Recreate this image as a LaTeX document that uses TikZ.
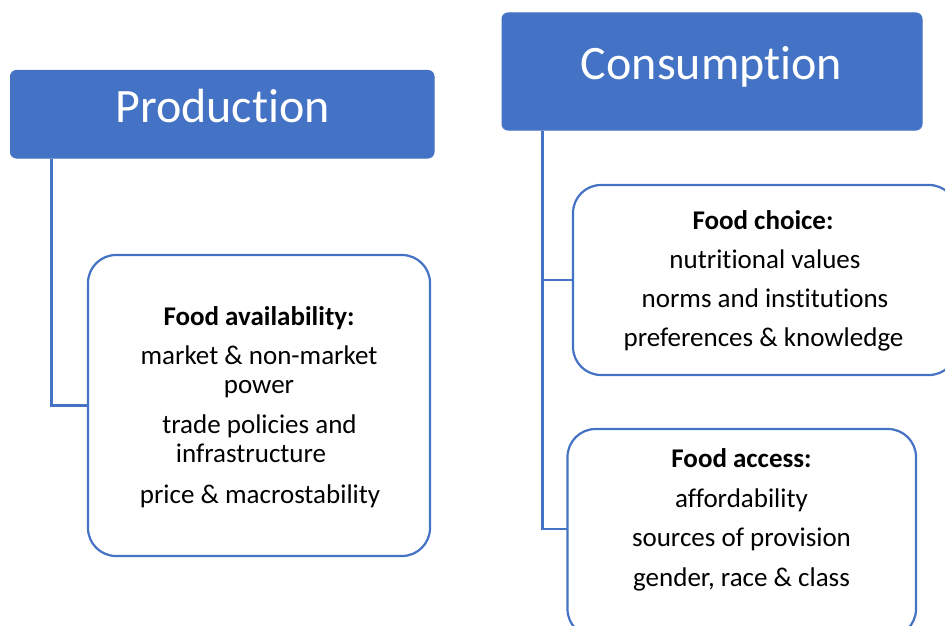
\documentclass[tikz,border=0pt]{standalone}
\usepackage{fontspec}
\setmainfont{Carlito}[RawFeature={-liga;-clig;-calt;-dlig}]
\definecolor{accent}{HTML}{4472C4}
% separate t and i so that no ligature is formed
\newcommand\ti{t\kern0pt i}
\begin{document}
\begin{tikzpicture}[x=1pt,y=-1pt,
  header/.style={draw=accent, fill=accent, rounded corners=6pt, line width=1pt, inner sep=0pt},
  panel/.style={draw=accent, fill=white, rounded corners=28pt, line width=2.2pt, inner sep=0pt},
  link/.style={draw=accent, line width=2.2pt},
  title/.style={anchor=base, text=white, font=\fontsize{48}{58}\selectfont, inner sep=0pt},
  heading/.style={anchor=base, font=\fontsize{27}{32}\selectfont\bfseries, inner sep=0pt},
  item/.style={anchor=base, font=\fontsize{27}{32}\selectfont, inner sep=0pt}]
\useasboundingbox (0,0) rectangle (945,626);
\clip (0,0) rectangle (945,626);

% header boxes
\node[header, minimum width=423.5pt, minimum height=87.5pt] (prod) at (222.25,114.25) {};
\node[header, minimum width=420pt, minimum height=117pt] (cons) at (712,71.5) {};
\node[title] (prodtitle) at (222.5,122) {Produc\ti on};
\node[title] (constitle) at (711.5,79) {Consump\ti on};

% connectors
\draw[link] ([xshift=41.5pt]prod.south west) |- (259,405.5) coordinate (availin);
\draw[link] ([xshift=41pt]cons.south west) coordinate (constop) |- (765,280) coordinate (choicein);
\draw[link] (constop) |- (741.75,529) coordinate (accessin);

% detail panels
\node[panel, minimum width=342pt, minimum height=301pt] (avail) at (259,405.5) {};
\node[panel, minimum width=384pt, minimum height=190pt] (choice) at (765,280) {};
\node[panel, minimum width=348.5pt, minimum height=208pt] (access) at (741.75,533) {};

% food availability
\node[heading] (a0) at (259,325) {Food availability:};
\node[item] (a1) at (259,364) {market \& non-market};
\node[item] (a2) at (259,393) {power};
\node[item] (a3) at (259.5,433) {trade policies and};
\node[item] (a4) at (251,462) {infrastructure};
\node[item] (a5) at (260,503) {price \& macrostability};

% food choice
\node[heading] (c0) at (763,229) {Food choice:};
\node[item] (c1) at (765,268) {nutri\ti onal values};
\node[item] (c2) at (765,307) {norms and ins\ti tu\ti ons};
\node[item] (c3) at (763.5,346) {preferences \& knowledge};

% food access
\node[heading] (f0) at (741.5,467) {Food access:};
\node[item] (f1) at (741.5,507) {affordability};
\node[item] (f2) at (741.5,546) {sources of provision};
\node[item] (f3) at (741.5,586) {gender, race \& class};
\end{tikzpicture}
\end{document}
